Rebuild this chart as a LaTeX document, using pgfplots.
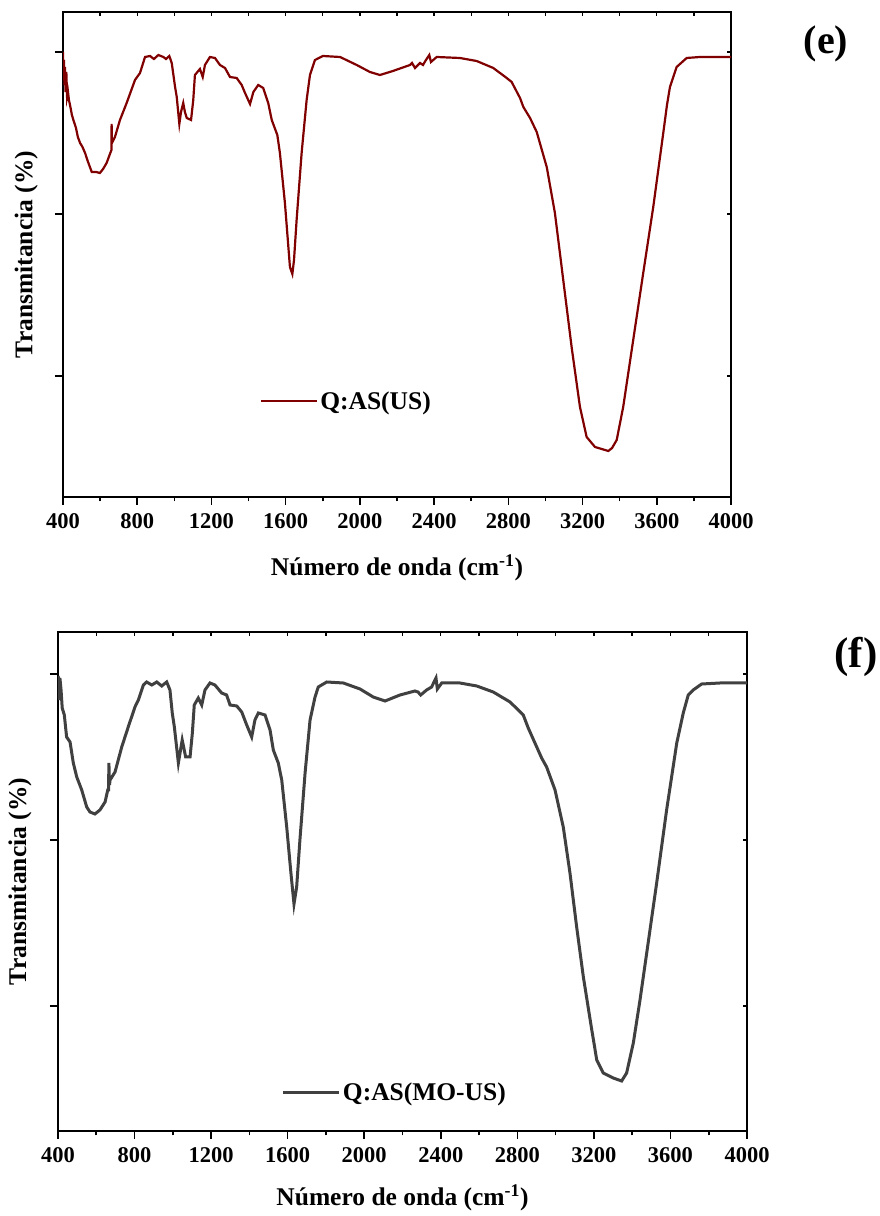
\documentclass[border=0pt]{standalone}
\usepackage{fontspec}
\setmainfont{Liberation Serif}
\usepackage{pgfplots}
\pgfplotsset{compat=1.18}

\definecolor{curveE}{RGB}{128,0,0}
\definecolor{curveF}{RGB}{64,64,64}

\pgfplotstableread{
nu T
400 445
403 417
405 437
408 412
411 430
414 405
418 425
422 400
427 405
432 397
440 390
448 382
456 377
470 369
480 360
492 354
505 350
519 344
535 335
555 325
578 325
599 324
616 328
635 334
657 345
661 347
662 373
664 354
680 360
707 377
743 394
788 417
815 424
842 440
869 441
890 438
914 442
941 440
955 438
973 441
986 434
1004 410
1013 400
1027 373
1036 385
1048 394
1057 385
1067 379
1090 377
1102 397
1111 422
1129 426
1138 428
1153 420
1165 432
1192 440
1219 439
1246 432
1273 429
1300 420
1336 419
1363 412
1381 404
1408 393
1426 405
1452 412
1479 409
1506 394
1525 377
1555 362
1569 344
1596 294
1623 230
1636 223
1645 237
1659 277
1686 344
1713 397
1731 422
1758 437
1801 441
1893 440
1983 432
2054 425
2108 422
2178 426
2270 432
2281 434
2297 429
2324 434
2340 432
2356 437
2374 442
2383 435
2414 440
2539 439
2629 436
2719 429
2791 419
2818 415
2863 399
2881 390
2917 379
2953 365
3007 330
3051 284
3096 217
3141 150
3186 90
3222 60
3267 50
3339 46
3359 49
3384 57
3419 90
3473 157
3527 224
3581 290
3635 364
3655 392
3671 410
3707 430
3761 439
3833 440
4000 440
}\specE

\pgfplotstableread{
nu T
400 455
405 452
408 431
410 453
416 441
422 423
433 416
445 394
463 389
480 368
498 354
524 341
550 324
567 319
593 317
619 321
646 329
660 341
664 341
666 368
669 346
672 351
698 359
733 384
767 404
802 424
820 431
846 446
863 449
890 446
916 449
942 445
968 449
985 441
997 418
1008 404
1029 368
1049 391
1067 374
1090 374
1102 398
1112 426
1133 433
1151 426
1168 441
1194 448
1220 446
1255 438
1281 436
1299 426
1334 425
1360 419
1386 406
1412 394
1429 411
1447 418
1482 416
1508 401
1525 381
1551 368
1569 351
1595 304
1617 258
1633 227
1647 244
1664 291
1691 358
1717 411
1743 434
1760 444
1804 449
1891 448
1978 442
2047 434
2109 430
2187 436
2265 440
2281 439
2295 436
2326 441
2352 444
2375 453
2382 442
2405 448
2500 448
2588 445
2674 439
2762 429
2831 416
2857 403
2892 388
2927 373
2953 364
2997 341
3040 304
3075 258
3110 204
3145 154
3189 101
3215 71
3249 58
3301 53
3345 50
3371 58
3406 88
3441 131
3476 178
3528 248
3580 321
3633 388
3667 418
3693 436
3719 441
3763 447
3859 448
4000 448
}\specF

\pgfplotsset{
  ftir/.style={
    scale only axis,
    xmin=400, xmax=4000,
    xtick={400,800,...,4000},
    minor xtick={600,1000,...,3800},
    tick align=outside,
    tick pos=left,
    major tick length=8pt,
    minor tick length=4.5pt,
    yticklabels={},
    every tick/.style={black, line width=1.6pt},
    axis line style={line width=1.8pt},
    tick label style={font=\fontsize{22.5}{22.5}\selectfont\bfseries},
    xticklabel style={yshift=-5pt},
    /pgf/number format/assume math mode=true,
    /pgf/number format/set thousands separator={},
    label style={font=\fontsize{25.5}{26}\selectfont\bfseries},
    xlabel={Número de onda (cm\textsuperscript{-1})},
    ylabel={Transmitancia (\%)},
    legend style={draw=none, fill=none, inner sep=0pt, outer sep=0pt,
      font=\fontsize{25.5}{25.5}\selectfont\bfseries, anchor=west},
    legend image code/.code={\draw[#1] (0pt,0pt) -- (56pt,0pt);},
  },
  mirror/.style={
    scale only axis,
    xmin=400, xmax=4000,
    axis x line*=top, axis y line*=right,
    axis line style={draw=none},
    xtick={400,600,...,4000},
    tick align=inside,
    major tick length=4pt,
    every tick/.style={black, line width=1.4pt},
    xticklabels={}, yticklabels={},
  },
}

\begin{document}
\begin{tikzpicture}
\useasboundingbox (0pt,0pt) rectangle (880pt,1216pt);

% panel (e)
\begin{axis}[ftir, at={(63pt,719pt)}, anchor=south west,
  width=668pt, height=485pt, ymin=0, ymax=485,
  ytick={121,283,445},
  xlabel style={at={(axis description cs:0.5,-0.146)}, anchor=center},
  ylabel style={at={(axis description cs:-0.055,0.5)}, anchor=center},
  legend style={at={(axis description cs:0.295,0.198)}}]
\addplot[curveE, line width=2.2pt] table[x=nu, y=T] {\specE};
\addlegendentry{Q:AS(US)}
\end{axis}
\begin{axis}[mirror, at={(63pt,719pt)}, anchor=south west,
  width=668pt, height=485pt, ymin=0, ymax=485, ytick={121,283,445}]
\end{axis}
\node[font=\fontsize{40}{40}\selectfont\bfseries] at (826pt,1172pt) {(e)};

% panel (f)
\begin{axis}[ftir, at={(58pt,85pt)}, anchor=south west,
  width=689pt, height=499pt, ymin=0, ymax=499,
  ytick={125,291,457},
  xlabel style={at={(axis description cs:0.5,-0.134)}, anchor=center},
  ylabel style={at={(axis description cs:-0.055,0.5)}, anchor=center},
  legend style={at={(axis description cs:0.325,0.078)}}]
\addplot[curveF, line width=3pt] table[x=nu, y=T] {\specF};
\addlegendentry{Q:AS(MO-US)}
\end{axis}
\begin{axis}[mirror, at={(58pt,85pt)}, anchor=south west,
  width=689pt, height=499pt, ymin=0, ymax=499, ytick={125,291,457}]
\end{axis}
\node[font=\fontsize{43}{43}\selectfont\bfseries] at (856pt,559pt) {(f)};
\end{tikzpicture}
\end{document}
